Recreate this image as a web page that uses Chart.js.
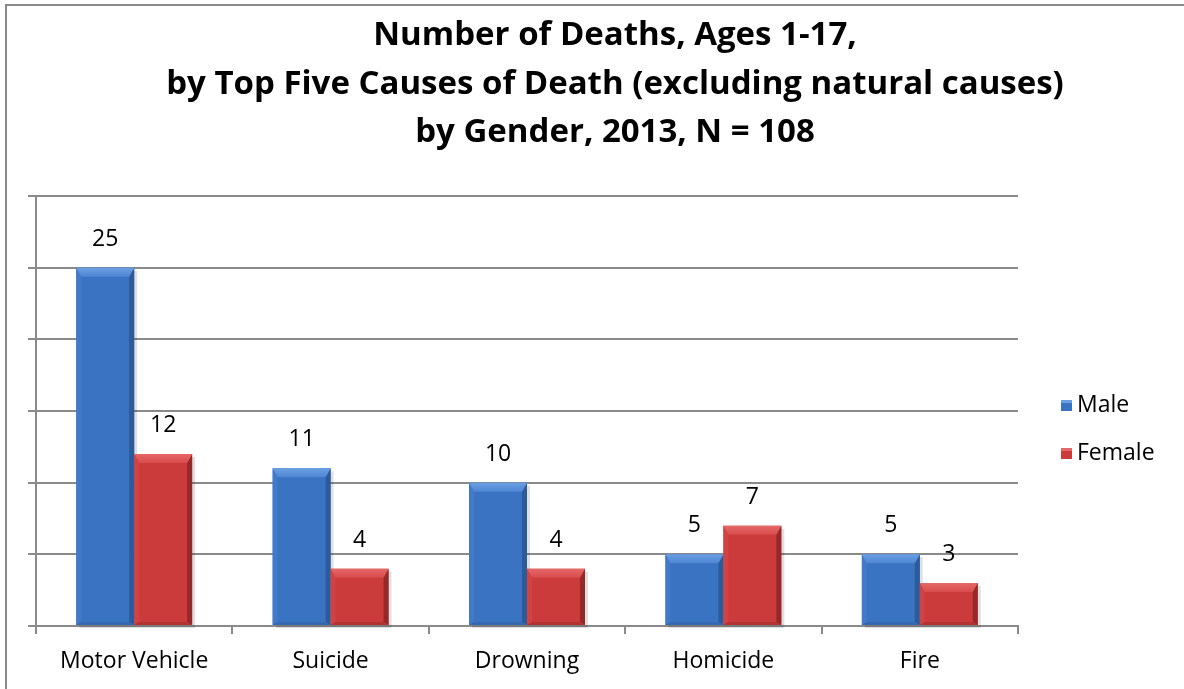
<!DOCTYPE html>
<html>
<head>
<meta charset="utf-8">
<title>Number of Deaths, Ages 1-17</title>
<script src="https://cdn.jsdelivr.net/npm/chart.js@4/dist/chart.umd.min.js"></script>
<style>
  html, body { margin: 0; padding: 0; background: #fff; overflow: hidden; }
  #wrap { width: 1184px; height: 689px; position: relative; }
</style>
</head>
<body>
<div id="wrap"><canvas id="grafik" width="1184" height="689"></canvas></div>
<script>
// data
const penyebab = ['Motor Vehicle', 'Suicide', 'Drowning', 'Homicide', 'Fire'];
const lakiLaki = [25, 11, 10, 5, 5];
const perempuan = [12, 4, 4, 7, 3];
const judul = [
  'Number of Deaths, Ages 1-17,',
  'by Top Five Causes of Death (excluding natural causes)',
  'by Gender, 2013, N = 108'
];

const FONT = '"Open Sans", "Noto Sans", sans-serif';

const warna = {
  Male:   { body: '#3b73c3', top: '#6a9fe2', top2: '#4f86d2', left: '#4279c8', right: '#2c5b9a', bottom: '#3468b0' },
  Female: { body: '#cc3b3b', top: '#e56868', top2: '#d84c4c', left: '#d14242', right: '#952828', bottom: '#b33333' }
};

// frame, title, bevelled bars, value labels and legend
const hiasan = {
  id: 'hiasan',
  beforeDraw(chart) {
    const ctx = chart.ctx;
    ctx.save();
    ctx.strokeStyle = '#8a8a8a';
    ctx.lineWidth = 2;
    ctx.beginPath();
    ctx.moveTo(6, 689);
    ctx.lineTo(6, 5);
    ctx.lineTo(1184, 5);
    ctx.stroke();

    ctx.fillStyle = '#000';
    ctx.font = 'bold 33px ' + FONT;
    ctx.textAlign = 'center';
    ctx.textBaseline = 'middle';
    judul.forEach((t, i) => ctx.fillText(t, 615, 36 + i * 48.5));
    ctx.restore();
  },
  beforeDatasetsDraw(chart) {
    // soft shadow behind each bar
    const ctx = chart.ctx;
    ctx.save();
    ctx.fillStyle = 'rgba(0,0,0,0.12)';
    chart.data.datasets.forEach((ds, di) => {
      chart.getDatasetMeta(di).data.forEach((bar) => {
        ctx.fillRect(bar.x - bar.width / 2 + 3, bar.y + 3, bar.width, bar.base - bar.y);
      });
    });
    ctx.restore();
  },
  afterDatasetsDraw(chart) {
    const ctx = chart.ctx;
    ctx.save();
    chart.data.datasets.forEach((ds, di) => {
      const w = warna[ds.label];
      chart.getDatasetMeta(di).data.forEach((bar, i) => {
        const x0 = bar.x - bar.width / 2, x1 = bar.x + bar.width / 2;
        const y0 = bar.y, y1 = bar.base;
        const b = Math.min(9, (y1 - y0) / 2);
        const s = 5;
        // left bevel
        ctx.fillStyle = w.left;
        ctx.beginPath();
        ctx.moveTo(x0, y0); ctx.lineTo(x0 + s, y0 + b); ctx.lineTo(x0 + s, y1 - 3); ctx.lineTo(x0, y1);
        ctx.closePath(); ctx.fill();
        // right bevel
        ctx.fillStyle = w.right;
        ctx.beginPath();
        ctx.moveTo(x1, y0); ctx.lineTo(x1 - s, y0 + b); ctx.lineTo(x1 - s, y1 - 3); ctx.lineTo(x1, y1);
        ctx.closePath(); ctx.fill();
        // bottom edge
        ctx.fillStyle = w.bottom;
        ctx.beginPath();
        ctx.moveTo(x0, y1); ctx.lineTo(x0 + s, y1 - 3); ctx.lineTo(x1 - s, y1 - 3); ctx.lineTo(x1, y1);
        ctx.closePath(); ctx.fill();
        // top bevel
        const g = ctx.createLinearGradient(0, y0, 0, y0 + b);
        g.addColorStop(0, w.top);
        g.addColorStop(1, w.top2);
        ctx.fillStyle = g;
        ctx.beginPath();
        ctx.moveTo(x0, y0); ctx.lineTo(x1, y0); ctx.lineTo(x1 - s, y0 + b); ctx.lineTo(x0 + s, y0 + b);
        ctx.closePath(); ctx.fill();

        // value label
        ctx.fillStyle = '#000';
        ctx.font = '23px ' + FONT;
        ctx.textAlign = 'center';
        ctx.textBaseline = 'alphabetic';
        ctx.fillText(String(ds.data[i]), bar.x, y0 - 22);
      });
    });

    // legend
    ctx.font = '23px ' + FONT;
    ctx.textAlign = 'left';
    ctx.textBaseline = 'middle';
    chart.data.datasets.forEach((ds, di) => {
      const w = warna[ds.label];
      const cy = 405 + di * 48;
      ctx.fillStyle = w.body;
      ctx.fillRect(1061, cy - 5, 11, 11);
      ctx.fillStyle = w.top;
      ctx.fillRect(1061, cy - 5, 11, 3);
      ctx.fillStyle = '#000';
      ctx.fillText(ds.label, 1077, cy);
    });
    ctx.restore();
  }
};

new Chart(document.getElementById('grafik').getContext('2d'), {
  type: 'bar',
  data: {
    labels: penyebab,
    datasets: [
      { label: 'Male', data: lakiLaki, backgroundColor: warna.Male.body, borderWidth: 0 },
      { label: 'Female', data: perempuan, backgroundColor: warna.Female.body, borderWidth: 0 }
    ]
  },
  options: {
    responsive: false,
    animation: false,
    layout: { padding: { left: 28, right: 166, top: 196, bottom: 0 } },
    categoryPercentage: 0.59,
    barPercentage: 1,
    plugins: {
      legend: { display: false },
      title: { display: false },
      tooltip: { enabled: false }
    },
    scales: {
      x: {
        afterFit: (s) => { s.height = 63; },
        grid: { offset: true, drawOnChartArea: false, drawTicks: true, tickLength: 8, color: '#8a8a8a', lineWidth: 2 },
        border: { color: '#8a8a8a', width: 2 },
        ticks: { color: '#000', font: { family: FONT, size: 23 }, padding: 14 }
      },
      y: {
        min: 0, max: 30,
        afterFit: (s) => { s.width = 8; },
        ticks: { display: false, stepSize: 5 },
        grid: { tickLength: 8, color: '#8a8a8a', lineWidth: 2 },
        border: { color: '#8a8a8a', width: 2 }
      }
    }
  },
  plugins: [hiasan]
});
</script>
</body>
</html>
